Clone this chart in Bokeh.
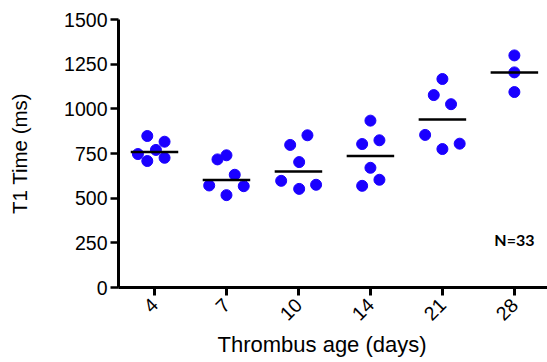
import numpy as np
from bokeh.plotting import figure
from bokeh.models import Range1d, FixedTicker, Label, Title
from bokeh.embed import file_html
from bokeh.resources import INLINE

# ---- data ----
categories = ["4", "7", "10", "14", "21", "28"]
t1_day4 = [848, 816, 770, 747, 726, 708]
t1_day7 = [717, 740, 631, 571, 567, 517]
t1_day10 = [798, 852, 702, 597, 575, 552]
t1_day14 = [934, 803, 824, 670, 603, 569]
t1_day21 = [1167, 1077, 1026, 854, 805, 775]
t1_day28 = [1299, 1204, 1094]
y_ticks = [0, 250, 500, 750, 1000, 1250, 1500]
n_label = "N=33"
x_title = "Thrombus age (days)"
y_title = "T1 Time (ms)"

# ---- layout (horizontal scatter offsets within each category) ----
offsets = [
    [-0.10, 0.14, 0.02, -0.23, 0.14, -0.10],
    [-0.125, 0.0, 0.115, -0.24, 0.24, 0.0],
    [-0.115, 0.125, 0.01, -0.24, 0.245, 0.01],
    [0.0, -0.115, 0.125, 0.0, 0.125, -0.115],
    [0.0, -0.12, 0.12, -0.24, 0.24, 0.0],
    [0.0, 0.0, 0.0],
]

groups = [t1_day4, t1_day7, t1_day10, t1_day14, t1_day21, t1_day28]
xs, ys = [], []
for i, (vals, offs) in enumerate(zip(groups, offsets)):
    for v, o in zip(vals, offs):
        xs.append(i + o)
        ys.append(v)
medians = [float(np.median(g)) for g in groups]
idx = list(range(len(categories)))

FONT = "Liberation Sans"

p = figure(width=547, height=362,
           x_range=Range1d(-0.5, 5.46), y_range=Range1d(0, 1500),
           output_backend="svg", toolbar_location=None,
           min_border_left=118, min_border_right=0,
           min_border_top=19, min_border_bottom=75)
p.outline_line_color = None
p.xgrid.visible = False
p.ygrid.visible = False
p.background_fill_color = "white"
p.border_fill_color = "white"

p.scatter(x=xs, y=ys, size=11, marker="circle",
          fill_color="#1a00ff", line_color="#1a00ff")
p.segment(x0=[i - 0.33 for i in idx], x1=[i + 0.33 for i in idx],
          y0=medians, y1=medians, line_color="black", line_width=2.5)

# x axis
xa = p.xaxis[0]
xa.ticker = FixedTicker(ticks=idx)
xa.major_label_overrides = {i: c for i, c in zip(idx, categories)}
xa.major_label_orientation = np.pi / 4
xa.axis_line_width = 3
xa.axis_line_color = "black"
xa.major_tick_line_width = 3
xa.major_tick_line_color = "black"
xa.major_tick_out = 8
xa.major_tick_in = 0
xa.minor_tick_line_color = None
xa.major_label_text_font = FONT
xa.major_label_text_font_size = "19.5px"
xa.major_label_text_color = "black"
xa.major_label_standoff = 6

p.add_layout(Title(text=x_title, align="left", offset=99, standoff=0,
                   text_font=FONT, text_font_size="22px",
                   text_font_style="normal", text_color="black"), "below")

# y axis
ya = p.yaxis[0]
ya.ticker = FixedTicker(ticks=y_ticks)
ya.axis_line_width = 3
ya.axis_line_color = "black"
ya.major_tick_line_width = 2.5
ya.major_tick_line_color = "black"
ya.major_tick_out = 8
ya.major_tick_in = 0
ya.minor_tick_line_color = None
ya.major_label_text_font = FONT
ya.major_label_text_font_size = "19.5px"
ya.major_label_text_color = "black"
ya.major_label_standoff = 3
ya.axis_label = y_title
ya.axis_label_text_font = FONT
ya.axis_label_text_font_size = "20.5px"
ya.axis_label_text_font_style = "normal"
ya.axis_label_text_color = "black"
ya.axis_label_standoff = 30

p.add_layout(Label(x=5, y=270, text=n_label, text_align="center",
                   text_baseline="middle", text_font="Lato",
                   text_font_style="bold", text_font_size="16px",
                   text_color="black"))

open("out.html", "w").write(file_html(p, INLINE))
